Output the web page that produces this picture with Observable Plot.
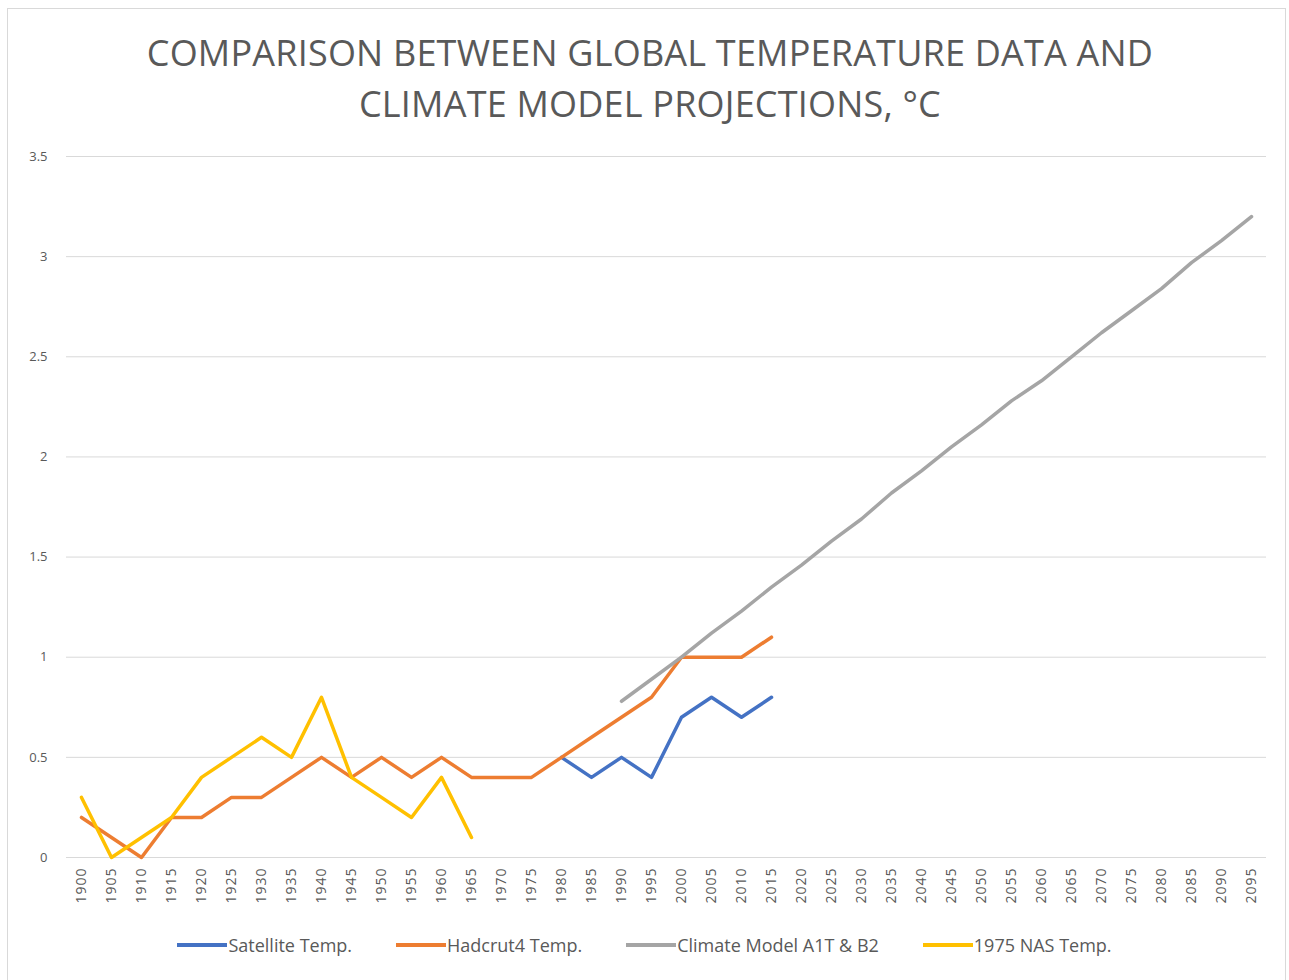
<!DOCTYPE html>
<html>
<head>
<meta charset="utf-8">
<script src="https://cdn.jsdelivr.net/npm/d3@7"></script>
<script src="https://cdn.jsdelivr.net/npm/@observablehq/plot@0.6"></script>
<style>
  html, body { margin: 0; padding: 0; background: #fff; }
  body { width: 1289px; height: 980px; position: relative; overflow: hidden; font-family: "Open Sans", Lato, sans-serif; color: #595959; }
  #frame { position: absolute; left: 7px; top: 8px; width: 1279px; height: 990px; border: 1px solid #d9d9d9; box-sizing: border-box; }
  #title { position: absolute; left: 0; top: 27px; width: 1300px; text-align: center; font-size: 36px; line-height: 51px; color: #595959; letter-spacing: 0.2px; }
  #chart { position: absolute; left: 0; top: 140px; }
  #legend { position: absolute; left: 0; top: 933px; width: 1289px; display: flex; justify-content: center; font-size: 18px; color: #595959; letter-spacing: 0px; }
  .item { display: flex; align-items: center; margin: 0 22px; }
  .sw { width: 50px; height: 4px; margin-right: 1px; }
</style>
</head>
<body>
<div id="frame"></div>
<div id="title">COMPARISON BETWEEN GLOBAL TEMPERATURE DATA AND<br>CLIMATE MODEL PROJECTIONS, °C</div>
<div id="chart"></div>
<div id="legend"></div>
<script>
const years = [1900,1905,1910,1915,1920,1925,1930,1935,1940,1945,1950,1955,1960,1965,1970,1975,1980,1985,1990,1995,2000,2005,2010,2015,2020,2025,2030,2035,2040,2045,2050,2055,2060,2065,2070,2075,2080,2085,2090,2095];
const seriesNames = ["Satellite Temp.", "Hadcrut4 Temp.", "Climate Model A1T & B2", "1975 NAS Temp."];
const seriesColors = ["#4472C4", "#ED7D31", "#A5A5A5", "#FFC000"];
// values aligned with years (null = no data)
const satellite = [null,null,null,null,null,null,null,null,null,null,null,null,null,null,null,null,0.5,0.4,0.5,0.4,0.7,0.8,0.7,0.8];
const hadcrut4 = [0.2,0.1,0.0,0.2,0.2,0.3,0.3,0.4,0.5,0.4,0.5,0.4,0.5,0.4,0.4,0.4,0.5,0.6,0.7,0.8,1.0,1.0,1.0,1.1];
const climateModel = [null,null,null,null,null,null,null,null,null,null,null,null,null,null,null,null,null,null,0.78,0.89,1.0,1.12,1.23,1.35,1.46,1.58,1.69,1.82,1.93,2.05,2.16,2.28,2.38,2.5,2.62,2.73,2.84,2.97,3.08,3.2];
const nas1975 = [0.3,0.0,0.1,0.2,0.4,0.5,0.6,0.5,0.8,0.4,0.3,0.2,0.4,0.1];
const yTicks = [0, 0.5, 1, 1.5, 2, 2.5, 3, 3.5];

const seriesValues = [satellite, hadcrut4, climateModel, nas1975];
const rows = [];
seriesValues.forEach((vals, si) => {
  years.forEach((yr, i) => {
    const v = vals[i];
    if (v !== null && v !== undefined) rows.push({series: seriesNames[si], year: String(yr), value: v});
  });
});

const chart = Plot.plot({
  width: 1289,
  height: 777,
  marginLeft: 66,
  marginRight: 23,
  marginTop: 16,
  marginBottom: 60,
  style: { fontFamily: "'Open Sans', Lato, sans-serif", fontSize: "13px", color: "#595959", background: "transparent" },
  x: { type: "point", domain: years.map(String), padding: 0.5, label: null },
  y: { domain: [0, 3.5], label: null },
  color: { domain: seriesNames, range: seriesColors },
  marks: [
    Plot.gridY(yTicks, { stroke: "#d9d9d9", strokeOpacity: 1, strokeWidth: 1 }),
    Plot.axisY(yTicks, { tickSize: 0, tickPadding: 19, label: null, tickFormat: d => String(d), fill: "#595959", fontSize: 13 }),
    Plot.axisX({ tickSize: 0, tickPadding: 10, tickRotate: -90, label: null, fill: "#595959", fontSize: 14 }),
    Plot.line(rows, { x: "year", y: "value", z: "series", stroke: "series", strokeWidth: 3.5, strokeLinejoin: "round", strokeLinecap: "round" })
  ]
});
document.getElementById("chart").appendChild(chart);
chart.querySelectorAll("[aria-label='x-axis tick label'] text").forEach(t => t.style.letterSpacing = "1px");

const legend = document.getElementById("legend");
seriesNames.forEach((n, i) => {
  const it = document.createElement("div");
  it.className = "item";
  const sw = document.createElement("div");
  sw.className = "sw";
  sw.style.background = seriesColors[i];
  const t = document.createElement("span");
  t.textContent = n;
  it.appendChild(sw); it.appendChild(t);
  legend.appendChild(it);
});
</script>
</body>
</html>
